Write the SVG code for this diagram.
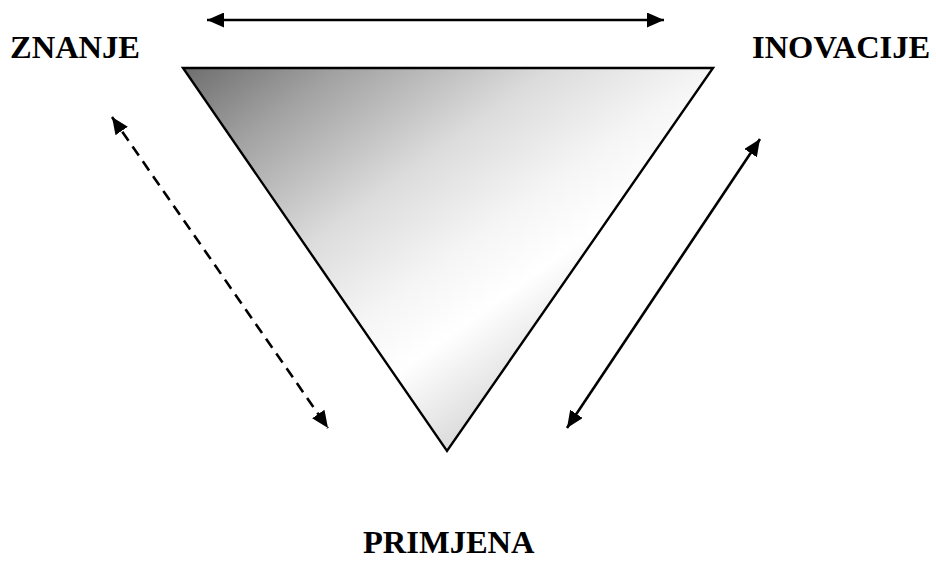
<svg xmlns="http://www.w3.org/2000/svg" width="936" height="564" viewBox="0 0 936 564">
  <style>
    .lbl { font-family: "Liberation Serif", "Times New Roman", serif; font-weight: bold; font-size: 32.5px; fill: #000; }
    .conn { stroke: #000; stroke-width: 2.6; fill: none; }
    .dash { stroke-dasharray: 11 7; }
  </style>
  <defs>
    <linearGradient id="tri" x1="0" y1="0" x2="1" y2="1">
      <stop offset="0" stop-color="#6e6e6e"/>
      <stop offset="0.15" stop-color="#a2a2a2"/>
      <stop offset="0.35" stop-color="#dcdcdc"/>
      <stop offset="0.5" stop-color="#f5f5f5"/>
      <stop offset="0.6" stop-color="#ffffff"/>
      <stop offset="0.76" stop-color="#d8d8d8"/>
    </linearGradient>
    <marker id="ah" viewBox="0 0 17 15" refX="17" refY="7.5" markerWidth="17" markerHeight="15" markerUnits="userSpaceOnUse" orient="auto-start-reverse">
      <path d="M0,0 L17,7.5 L0,15 z" fill="#000"/>
    </marker>
  </defs>
  <g id="triangle">
    <polygon points="183,68 713,68 447,451" fill="url(#tri)" stroke="#000" stroke-width="2.4" stroke-linejoin="miter"/>
  </g>
  <g id="znanje">
    <text class="lbl" x="10" y="58">ZNANJE</text>
  </g>
  <g id="inovacije">
    <text class="lbl" x="752" y="58">INOVACIJE</text>
  </g>
  <g id="primjena">
    <text class="lbl" x="363" y="553">PRIMJENA</text>
  </g>
  <g id="connectors">
    <line class="conn" x1="207" y1="20" x2="664" y2="20" marker-start="url(#ah)" marker-end="url(#ah)"/>
    <line class="conn dash" x1="112" y1="117" x2="328" y2="428" marker-start="url(#ah)" marker-end="url(#ah)"/>
    <line class="conn" x1="760" y1="139" x2="567" y2="428" marker-start="url(#ah)" marker-end="url(#ah)"/>
  </g>
</svg>
